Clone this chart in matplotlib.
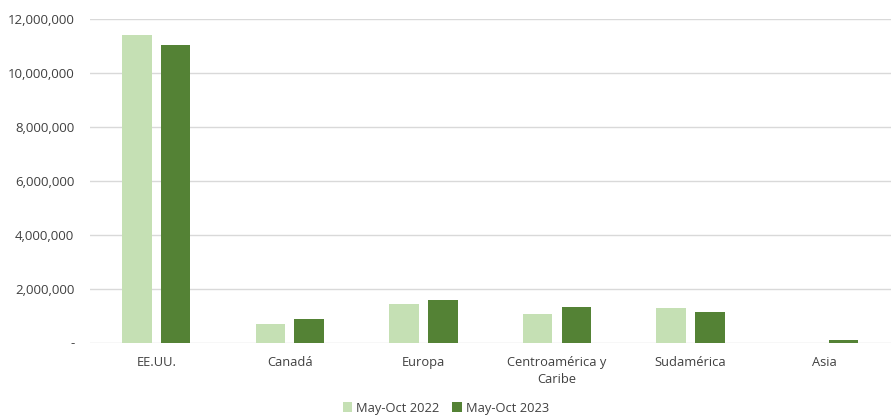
import matplotlib
matplotlib.use("Agg")
import matplotlib.pyplot as plt
from matplotlib.ticker import FuncFormatter
import numpy as np

categories = ["EE.UU.", "Canadá", "Europa", "Centroamérica y\nCaribe", "Sudamérica", "Asia"]
series_names = ["May-Oct 2022", "May-Oct 2023"]
values_2022 = [11410000, 675000, 1440000, 1070000, 1270000, 0]
values_2023 = [11020000, 870000, 1570000, 1310000, 1130000, 75000]
yticks = [0, 2000000, 4000000, 6000000, 8000000, 10000000, 12000000]

c_light = "#C5E0B4"
c_dark = "#548235"
txt = "#404040"

plt.rcParams['font.family'] = ['Open Sans', 'DejaVu Sans']

fig = plt.figure(figsize=(8.92, 4.16), dpi=100)
ax = fig.add_axes([89.5/892, (416-342.5)/416, (891-89.5)/892, (342.5-19)/416])

x = np.arange(len(categories))
w = 0.222
off = 0.145
ax.bar(x - off, values_2022, width=w, color=c_light, label=series_names[0], zorder=3)
ax.bar(x + off, values_2023, width=w, color=c_dark, label=series_names[1], zorder=3)

ax.set_xlim(-0.5, len(categories) - 0.5)
ax.set_ylim(0, 12000000)
ax.set_yticks(yticks)
ax.yaxis.set_major_formatter(FuncFormatter(lambda v, p: "-" if v == 0 else f"{int(v):,}"))
ax.set_xticks(x)
ax.set_xticklabels(categories, fontsize=9.3, color=txt, linespacing=1.35, multialignment='center')
ax.tick_params(axis='y', labelsize=9.5, labelcolor=txt, length=0, pad=11)
ax.tick_params(axis='x', length=0, pad=10)
ax.grid(axis='y', color="#D9D9D9", linewidth=1, zorder=0)
for s in ax.spines.values():
    s.set_visible(False)

leg = fig.legend(loc="lower center", bbox_to_anchor=(0.5, -0.012), ncol=2, frameon=False,
                 fontsize=9.3, handlelength=0.75, handleheight=0.75, handletextpad=0.3,
                 columnspacing=1.0, borderaxespad=0.1)
for t in leg.get_texts():
    t.set_color(txt)

fig.savefig("out.png", dpi=100)
